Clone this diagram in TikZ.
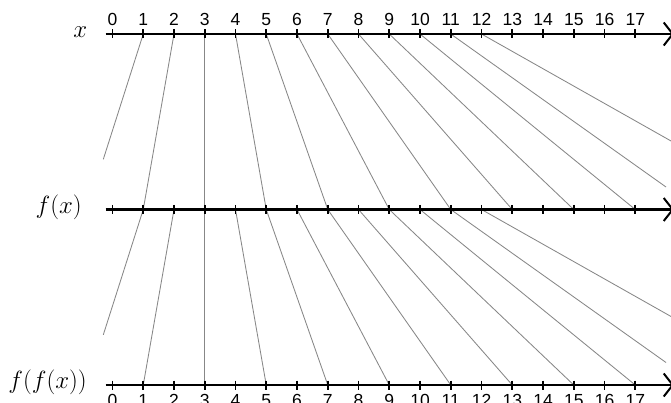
\documentclass[tikz,border=0pt]{standalone}
\usepackage{fontspec}
\setmainfont{Liberation Sans}
\usetikzlibrary{arrows.meta}
\begin{document}
\begin{tikzpicture}[x=1pt,y=-1pt,
  axisline/.style={line width=2.1pt,black,-{Straight Barb[length=9pt,width=23pt,line width=2pt]}},
  tickmark/.style={line width=1.8pt,black},
  link/.style={line width=0.85pt,color=linkgray},
  numlabel/.style={anchor=base,inner sep=0pt,font=\fontsize{17.5}{17.5}\selectfont},
  axlabel/.style={anchor=east,inner sep=0pt,font=\fontsize{24.5}{24.5}\selectfont}]
\definecolor{linkgray}{RGB}{135,135,135}
\useasboundingbox (0,0) rectangle (671,403);
% tick positions
\foreach \i in {0,...,17}{
  \coordinate (t\i) at ({112.5+30.75*\i},34);
  \coordinate (m\i) at ({112.5+30.75*\i},209.5);
  \coordinate (b\i) at ({112.5+30.75*\i},385);
}
% free ends
\coordinate (ta) at (103.3,159.3);
\coordinate (tb) at (666,187);
\coordinate (tc) at (676,143.8);
\coordinate (ma) at (103.3,334.8);
\coordinate (mb) at (666,362.5);
\coordinate (mc) at (676,319.3);
% connectors
\draw[link] (t1) -- (ta);
\draw[link] (t2) -- (m1);
\foreach \i [evaluate=\i as \j using int(2*\i-3)] in {3,...,10}{
  \draw[link] (t\i) -- (m\j);
}
\draw[link] (t11) -- (tb);
\draw[link] (t12) -- (tc);
\draw[link] (m1) -- (ma);
\draw[link] (m2) -- (b1);
\foreach \i [evaluate=\i as \j using int(2*\i-3)] in {3,...,10}{
  \draw[link] (m\i) -- (b\j);
}
\draw[link] (m11) -- (mb);
\draw[link] (m12) -- (mc);
% axes
\coordinate (tstart) at (105.7,34);
\coordinate (tend) at (674,34);
\coordinate (mstart) at (105.7,209.5);
\coordinate (mend) at (674,209.5);
\coordinate (bstart) at (105.7,385);
\coordinate (bend) at (674,385);
\draw[axisline] (tstart) -- (tend);
\draw[axisline] (mstart) -- (mend);
\draw[axisline] (bstart) -- (bend);
\foreach \i in {0,...,17}{
  \draw[tickmark] (t\i) ++(0,-4.5) -- ++(0,9);
  \draw[tickmark] (m\i) ++(0,-4.5) -- ++(0,9);
  \draw[tickmark] (b\i) ++(0,-4.5) -- ++(0,9);
  \node[numlabel] (lt\i) at (t\i |- 0,26) {\i};
  \node[numlabel] (lb\i) at (b\i |- 0,406.5) {\i};
}
% axis labels
\node[axlabel] (lx) at (87.5,32) {$x$};
\node[axlabel] (lfx) at (82,207) {$f(x)$};
\node[axlabel] (lffx) at (87,382) {$f(f(x))$};
\end{tikzpicture}
\end{document}
